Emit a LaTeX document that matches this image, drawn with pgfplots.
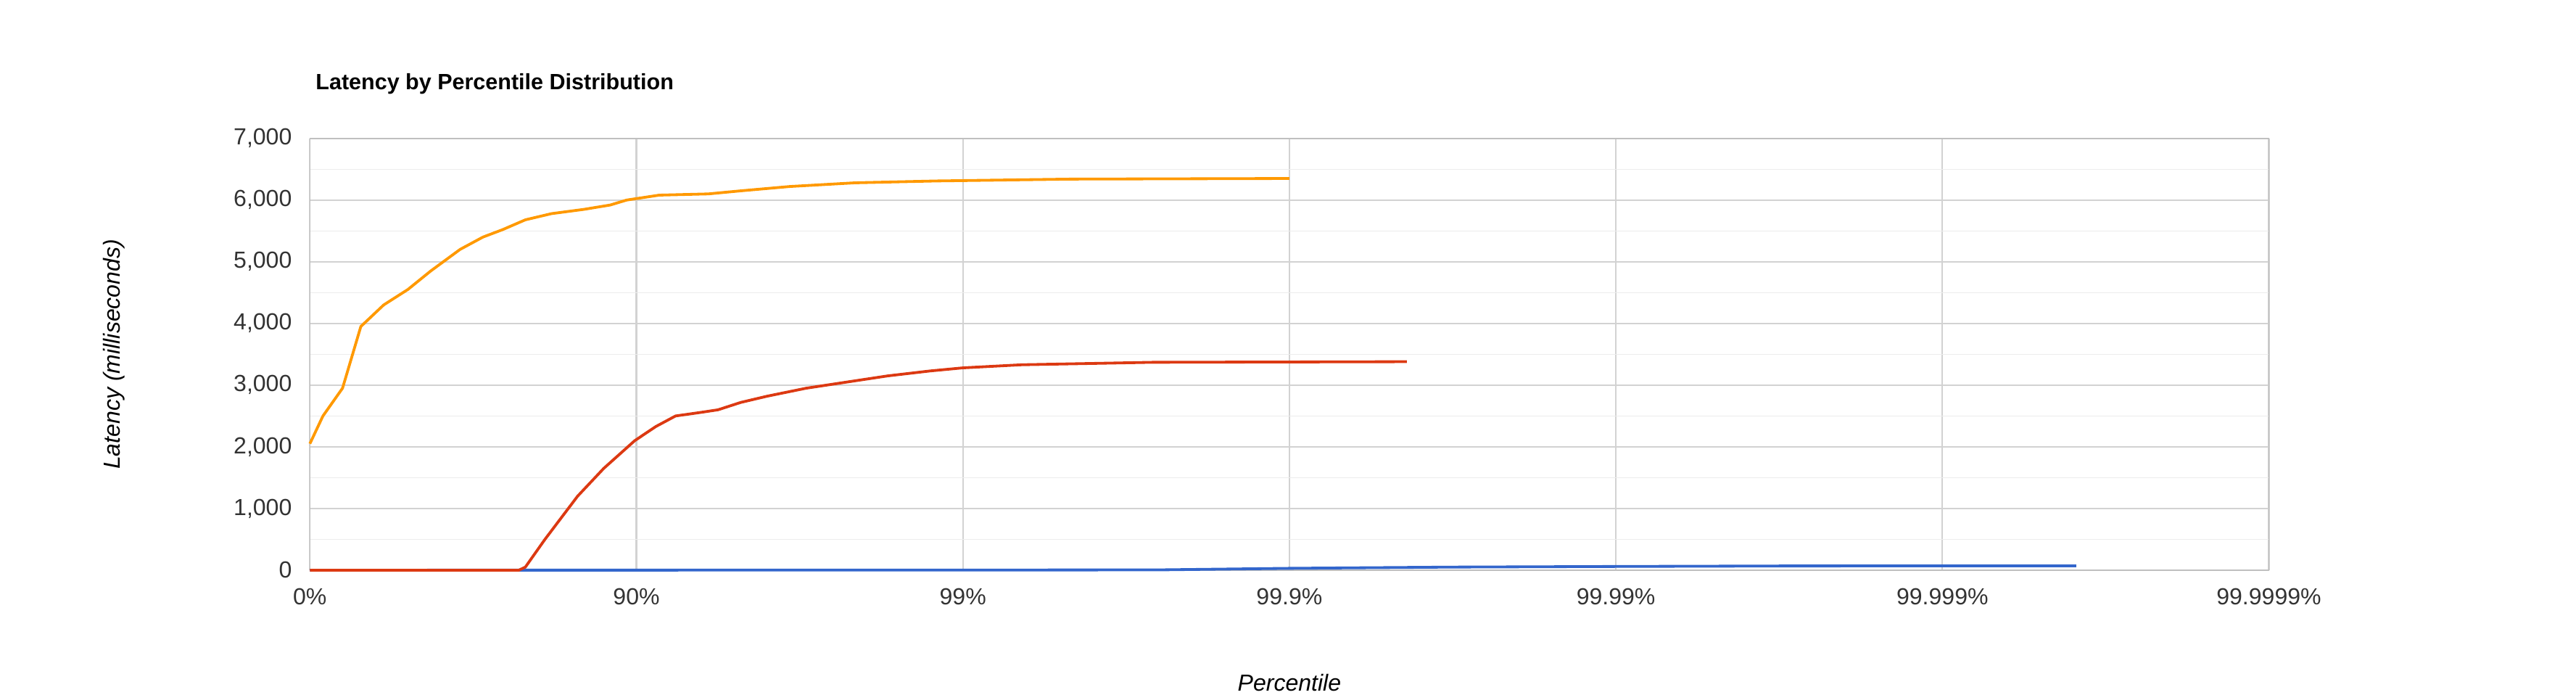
\documentclass[border=0pt]{standalone}
\usepackage{pgfplots}
\pgfplotsset{compat=1.18}
\usepackage{fontspec}
\setmainfont{Liberation Sans}
\begin{document}
\begin{tikzpicture}
\path[use as bounding box] (-112pt,-45pt) rectangle (819pt,206pt);
\begin{axis}[at={(0,0)},anchor=south west,scale only axis,width=708pt,height=156pt,
  xmin=0,xmax=6,ymin=0,ymax=7000,
  xtick={0,1,2,3,4,5,6},xticklabels={0\%,90\%,99\%,99.9\%,99.99\%,99.999\%,99.9999\%},
  ytick={0,1000,...,7000},minor ytick={500,1500,...,6500},
  yticklabel style={/pgf/number format/1000 sep={,},xshift=-3pt},
  xticklabel style={yshift=-3pt},
  /pgf/number format/assume math mode=true,
  scaled y ticks=false,
  grid=both, major grid style={gray!35,line width=0.6pt}, minor grid style={gray!15},
  axis line style={gray!50}, tick style={draw=none},
  ticklabel style={font=\fontsize{8.4}{10}\selectfont,text=black!80},
  xlabel={\itshape Percentile}, xlabel style={font=\fontsize{8.4}{10}\selectfont,at={(axis description cs:0.5,-0.26)},anchor=center},
  ylabel={\itshape Latency (milliseconds)}, ylabel style={font=\fontsize{8.4}{10}\selectfont,at={(axis description cs:-0.1,0.5)},anchor=center},
  legend columns=3, legend style={draw=none,at={(0.5,-0.25)},anchor=center,font=\fontsize{8.4}{10}\selectfont,/tikz/every even column/.append style={column sep=14pt}},
  legend style={at={(0.5,-0.42)}},
  legend image post style={line width=1pt},
  clip=false]
\addplot[color={rgb,255:red,51;green,102;blue,204},line width=1pt] coordinates {(0,0)(2,2)(2.6,5)(3.0,30)(3.5,50)(4,60)(4.5,68)(5,70)(5.41,70)};
\addplot[color={rgb,255:red,220;green,57;blue,18},line width=1pt] coordinates {(0,0)(0.64,0)(0.66,50)(0.72,500)(0.82,1200)(0.9,1650)(0.995,2100)(1.06,2330)(1.12,2500)(1.2,2560)(1.25,2600)(1.32,2720)(1.4,2820)(1.52,2950)(1.62,3030)(1.77,3150)(1.9,3230)(2.0,3280)(2.18,3330)(2.58,3370)(3.36,3380)};
\addplot[color={rgb,255:red,255;green,153;blue,0},line width=1pt] coordinates {(0,2050)(0.04,2500)(0.1,2950)(0.156,3950)(0.226,4300)(0.30,4550)(0.37,4850)(0.46,5200)(0.53,5400)(0.59,5520)(0.66,5680)(0.74,5780)(0.84,5850)(0.92,5920)(0.97,6000)(1.07,6080)(1.22,6100)(1.32,6150)(1.47,6220)(1.67,6280)(1.92,6310)(2.33,6340)(3.0,6350)};
\legend{zput-10000.txt,zput15000.txt,zput20000.txt}
\node[anchor=west,font=\bfseries\fontsize{8}{10}\selectfont] at (axis description cs:-0.002,1.127) {Latency by Percentile Distribution};
\end{axis}
\end{tikzpicture}
\end{document}
